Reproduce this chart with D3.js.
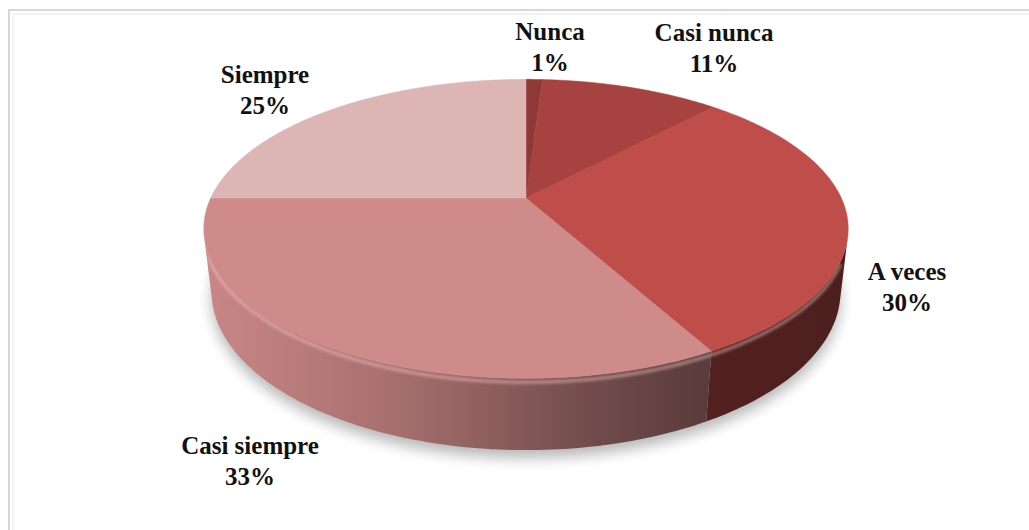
<!DOCTYPE html>
<html>
<head>
<meta charset="utf-8">
<script src="https://cdn.jsdelivr.net/npm/d3@7"></script>
<style>
  html, body { margin: 0; padding: 0; background: #ffffff; }
  svg { display: block; }
</style>
</head>
<body>
<div id="chart"></div>
<script>
'use strict';

// data
const categories = ['Nunca', 'Casi nunca', 'A veces', 'Casi siempre', 'Siempre'];
const values = [1, 11, 30, 33, 25];
const sliceColors = ['#8f3836', '#a6423f', '#bf4d4a', '#cf8b8a', '#ddb5b5'];

// label anchors (centre x, first baseline)
const labelPos = [[550, 40], [714, 41], [907, 280], [250, 454], [265, 83]];

const width = 1029,
      height = 530;

// perspective of the 3d disc
const cx = 526, cy = 198;
const k = 1362, dist = 4.32, thick = 0.224;
const elev = 27 * Math.PI / 180;
const sE = Math.sin(elev), cE = Math.cos(elev);

function project(theta, H) {
    let X = Math.sin(theta), Z = -Math.cos(theta);
    let v = Z * sE - H * cE;
    let w = dist - Z * cE - H * sE;
    return [cx + k * X / w, cy + k * v / w];
}

function arcPoints(a0, a1, H) {
    let pts = [];
    let n = Math.max(2, Math.ceil(Math.abs(a1 - a0) / (Math.PI / 180)));
    for (let i = 0; i <= n; i++) {
        pts.push(project(a0 + (a1 - a0) * i / n, H));
    }
    return pts;
}

const svg = d3.select('#chart')
              .append('svg')
              .attr('width', width)
              .attr('height', height);

const defs = svg.append('defs');
defs.append('filter')
    .attr('id', 'shadow')
    .attr('x', '-20%').attr('y', '-20%')
    .attr('width', '140%').attr('height', '140%')
    .append('feGaussianBlur')
    .attr('stdDeviation', 7);
defs.append('filter')
    .attr('id', 'soft')
    .append('feGaussianBlur')
    .attr('stdDeviation', 1.5);

// frame
svg.append('rect')
   .attr('x', 9).attr('y', 10)
   .attr('width', 1040).attr('height', 540)
   .attr('fill', '#ffffff')
   .attr('stroke', '#d6d6d6')
   .attr('stroke-width', 2);
svg.append('path')
   .attr('d', 'M13,600 L13,14 L1029,14')
   .attr('fill', 'none')
   .attr('stroke', '#f2f2f2')
   .attr('stroke-width', 2);

const pie = d3.pie().sort(null).value(d => d)(values);
const line = d3.line();

// visible range of the outer wall
const wallMin = Math.acos(-1 / (dist * cE));
const wallMax = 2 * Math.PI - wallMin;

// drop shadow under the disc
svg.append('path')
   .attr('d', line(arcPoints(0, 2 * Math.PI, -thick).map(p => [p[0], p[1] + 8])) + 'Z')
   .attr('fill', '#000')
   .attr('opacity', 0.28)
   .attr('filter', 'url(#shadow)');

// wall gradients, darker to the right
const wallStops = [[0, 0.97], [0.3, 0.8], [0.6, 0.55], [0.78, 0.43], [1, 0.4]];
pie.forEach(function(s, i) {
    let base = d3.rgb(sliceColors[i]);
    let g = defs.append('linearGradient')
                .attr('id', 'wall-' + i)
                .attr('gradientUnits', 'userSpaceOnUse')
                .attr('x1', 205).attr('x2', 848)
                .attr('y1', 0).attr('y2', 0);
    wallStops.forEach(function(st) {
        g.append('stop')
         .attr('offset', st[0])
         .attr('stop-color', d3.rgb(base.r * st[1], base.g * st[1], base.b * st[1]).toString());
    });
});

// walls
const walls = svg.append('g').attr('id', 'walls');
pie.forEach(function(s, i) {
    let a0 = Math.max(s.startAngle, wallMin),
        a1 = Math.min(s.endAngle, wallMax);
    if (a1 <= a0) return;
    let pts = arcPoints(a0, a1, 0).concat(arcPoints(a1, a0, -thick));
    walls.append('path')
         .attr('d', line(pts) + 'Z')
         .attr('fill', 'url(#wall-' + i + ')');
});

// rim highlight
svg.append('path')
   .attr('d', line(arcPoints(wallMin + 0.15, wallMax - 0.1, -0.012)))
   .attr('fill', 'none')
   .attr('stroke', '#f6c4c2')
   .attr('stroke-width', 3)
   .attr('opacity', 0.55)
   .attr('filter', 'url(#soft)');

// tops
const tops = svg.append('g').attr('id', 'tops');
pie.forEach(function(s, i) {
    let pts = [[cx, cy]].concat(arcPoints(s.startAngle, s.endAngle, 0));
    tops.append('path')
        .attr('d', line(pts) + 'Z')
        .attr('fill', sliceColors[i])
        .attr('stroke', sliceColors[i])
        .attr('stroke-width', 0.5);
});

// labels
const labels = svg.append('g')
                  .attr('font-family', '"Liberation Serif", "Times New Roman", serif')
                  .attr('font-weight', 'bold')
                  .attr('font-size', '25px')
                  .attr('fill', '#111')
                  .attr('text-anchor', 'middle');
categories.forEach(function(c, i) {
    let t = labels.append('text')
                  .attr('x', labelPos[i][0])
                  .attr('y', labelPos[i][1]);
    t.append('tspan').attr('x', labelPos[i][0]).text(c);
    t.append('tspan').attr('x', labelPos[i][0]).attr('dy', 31).text(values[i] + '%');
});
</script>
</body>
</html>
